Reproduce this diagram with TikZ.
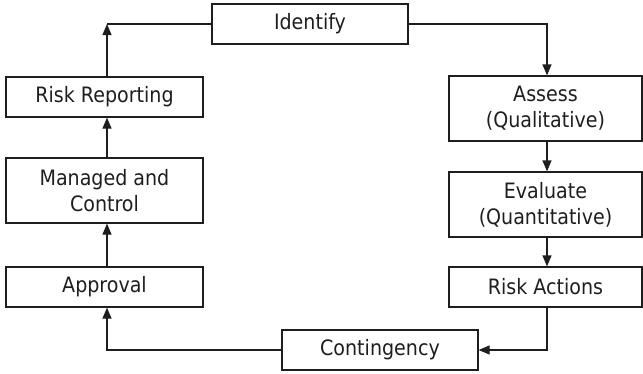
\documentclass[tikz,border=0pt]{standalone}
\usepackage{fontspec}
\setmainfont{DejaVu Sans Condensed}
\usetikzlibrary{arrows.meta}
\definecolor{ink}{HTML}{1E1E1E}
\begin{document}
\begin{tikzpicture}[x=1pt,y=-1pt,
  box/.style={draw=ink, line width=1.2pt, rectangle, inner sep=0pt, align=center,
    text=ink, font=\fontsize{21.2}{26}\selectfont},
  onebox/.style={box, minimum height=40pt},
  twobox/.style={box, minimum height=65pt},
  conn/.style={line width=1.2pt, draw=ink},
  arr/.style={conn, -{Triangle[length=11pt,width=9pt]}}]
\useasboundingbox (0,0) rectangle (643,373);
\coordinate (lx) at (107,0);
\coordinate (rx) at (547,0);
\node[onebox, minimum width=196pt] (id) at (310,24) {Identify};
\node[onebox, minimum width=197pt] (rr) at (104.5,97) {Risk Reporting};
\node[twobox, minimum width=197pt] (mc) at (104.5,190.5) {Managed and\\Control};
\node[onebox, minimum width=197pt] (ap) at (104.5,287) {Approval};
\node[twobox, minimum width=193pt] (as) at (545.5,108.5) {Assess\\(Qualitative)};
\node[twobox, minimum width=193pt] (ev) at (545.5,204.5) {Evaluate\\(Quantitative)};
\node[onebox, minimum width=193pt] (ra) at (545.5,287) {Risk Actions};
\node[onebox, minimum width=196pt] (co) at (380,350) {Contingency};
\draw[arr] (id.east) -- (rx |- id.east) -- (rx |- as.north);
\draw[arr] (rx |- as.south) -- (rx |- ev.north);
\draw[arr] (rx |- ev.south) -- (rx |- ra.north);
\draw[arr] (rx |- ra.south) -- (rx |- co.east) -- (co.east);
\draw[arr] (co.west) -- (lx |- co.west) -- (lx |- ap.south);
\draw[arr] (lx |- ap.north) -- (lx |- mc.south);
\draw[arr] (lx |- mc.north) -- (lx |- rr.south);
\draw[arr] (lx |- rr.north) -- (lx |- id.west);
\draw[conn] (lx |- id.west) -- (id.west);
\end{tikzpicture}
\end{document}
